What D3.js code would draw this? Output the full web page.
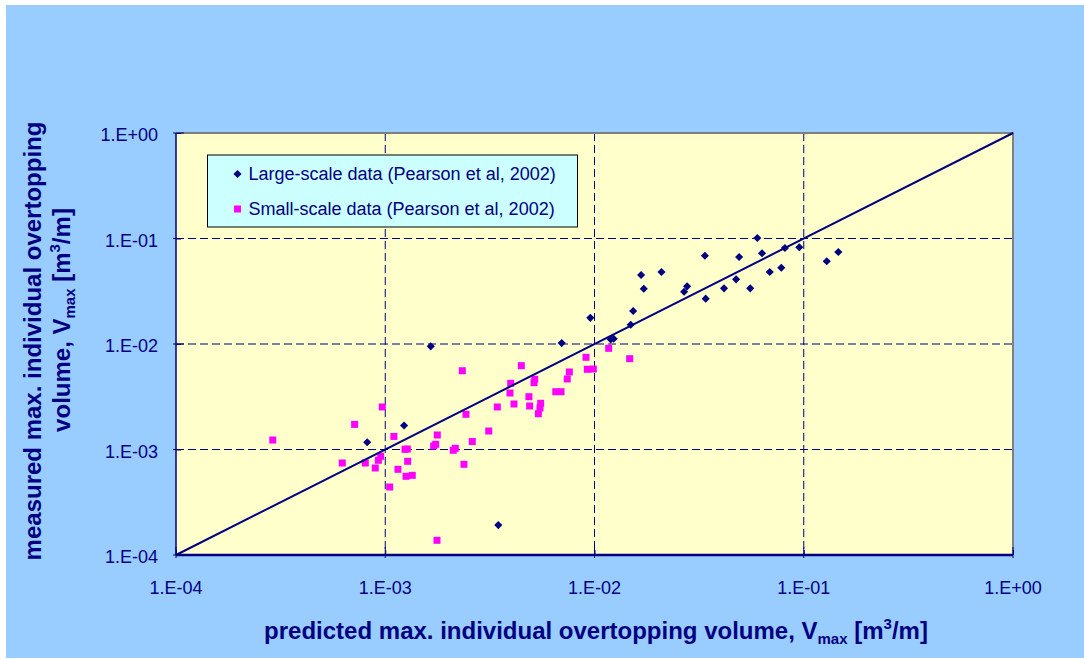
<!DOCTYPE html>
<html lang="en">
<head>
<meta charset="utf-8">
<title>Overtopping volume</title>
<script src="https://d3js.org/d3.v7.min.js"></script>
<style>
  body { margin: 0; background: #fff; }
  text { font-family: Arial, "Liberation Sans", sans-serif; fill: #000080; }
</style>
</head>
<body>
<script>
// large-scale data (Pearson et al, 2002)
var largeX = [8.2e-4, 1.23e-3, 1.65e-3, 3.47e-3, 6.97e-3, 9.55e-3, 1.195e-2, 1.235e-2, 1.49e-2, 1.53e-2,
              1.67e-2, 1.72e-2, 2.09e-2, 2.68e-2, 2.77e-2, 3.37e-2, 3.40e-2, 4.16e-2, 4.75e-2, 4.91e-2,
              5.55e-2, 6.0e-2, 6.32e-2, 6.88e-2, 7.81e-2, 8.13e-2, 9.52e-2, 0.1288, 0.1463];
var largeY = [1.17e-3, 1.69e-3, 9.5e-3, 1.92e-4, 1.02e-2, 1.77e-2, 1.107e-2, 1.122e-2, 1.524e-2, 2.056e-2,
              4.51e-2, 3.34e-2, 4.81e-2, 3.13e-2, 3.52e-2, 6.87e-2, 2.69e-2, 3.37e-2, 4.10e-2, 6.68e-2,
              3.37e-2, 0.101, 7.24e-2, 4.81e-2, 5.28e-2, 8.13e-2, 8.26e-2, 6.08e-2, 7.45e-2];

// small-scale data (Pearson et al, 2002)
var smallX = [2.90e-4, 6.23e-4, 7.14e-4, 8.03e-4, 8.96e-4, 9.27e-4, 9.51e-4, 9.68e-4, 1.05e-3, 1.10e-3,
              1.15e-3, 1.243e-3, 1.275e-3, 1.28e-3, 1.257e-3, 1.346e-3, 1.704e-3, 1.742e-3, 1.773e-3, 1.767e-3,
              2.114e-3, 2.162e-3, 2.335e-3, 2.378e-3, 2.431e-3, 2.606e-3, 3.123e-3, 3.432e-3, 3.946e-3, 3.976e-3,
              4.124e-3, 4.47e-3, 4.86e-3, 4.90e-3, 5.14e-3, 5.18e-3, 5.39e-3, 5.49e-3, 5.53e-3, 6.53e-3,
              6.92e-3, 7.41e-3, 7.58e-3, 9.11e-3, 9.24e-3, 9.87e-3, 1.169e-2, 1.473e-2];
var smallY = [1.23e-3, 7.45e-4, 1.73e-3, 7.45e-4, 6.68e-4, 7.90e-4, 8.62e-4, 2.53e-3, 4.41e-4, 1.33e-3,
              6.49e-4, 1.004e-3, 1.011e-3, 7.73e-4, 5.57e-4, 5.69e-4, 1.08e-3, 1.12e-3, 1.372e-3, 1.378e-4,
              9.83e-4, 1.027e-3, 5.58e-3, 7.24e-4, 2.156e-3, 1.19e-3, 1.497e-3, 2.53e-3, 3.43e-3, 4.24e-3,
              2.70e-3, 6.23e-3, 3.166e-3, 2.584e-3, 4.30e-3, 4.63e-3, 2.184e-3, 2.474e-3, 2.74e-3, 3.53e-3,
              3.53e-3, 4.66e-3, 5.43e-3, 7.48e-3, 5.76e-3, 5.79e-3, 9.10e-3, 7.26e-3];

// 1:1 line and axis ticks
var lineVals = [1e-4, 1];
var majorTicks = [1e-4, 1e-3, 1e-2, 1e-1, 1];
var tickLabels = ["1.E-04", "1.E-03", "1.E-02", "1.E-01", "1.E+00"];
var legendLabels = ["Large-scale data (Pearson et al, 2002)", "Small-scale data (Pearson et al, 2002)"];

var W = 1084, H = 659,
    margin = {top: 133, right: 71, bottom: 104, left: 176},
    width = W - margin.left - margin.right,
    height = H - margin.top - margin.bottom;

var navy = "#000080", pink = "#ff00ff";

var svg = d3.select("body").append("svg")
    .attr("width", W)
    .attr("height", H);

// outer blue area
svg.append("rect").attr("x", 6).attr("y", 5).attr("width", W - 6).attr("height", H - 6)
    .attr("fill", "#99ccff");

var g = svg.append("g").attr("transform", "translate(" + margin.left + "," + margin.top + ")");

var x = d3.scaleLog().domain([1e-4, 1]).range([0, width]);
var y = d3.scaleLog().domain([1e-4, 1]).range([height, 0]);

// plot area
g.append("rect").attr("width", width).attr("height", height).attr("fill", "#ffffcc");

// grid
g.append("g").selectAll("line")
    .data(majorTicks.slice(1, 4))
    .enter().append("line")
    .attr("x1", function(d) { return x(d); })
    .attr("x2", function(d) { return x(d); })
    .attr("y1", 0).attr("y2", height)
    .attr("stroke", navy).attr("stroke-dasharray", "8,4");

g.append("g").selectAll("line")
    .data(majorTicks.slice(1, 4))
    .enter().append("line")
    .attr("y1", function(d) { return y(d); })
    .attr("y2", function(d) { return y(d); })
    .attr("x1", 0).attr("x2", width)
    .attr("stroke", navy).attr("stroke-dasharray", "8,4");

// frame: grey top and right
g.append("path")
    .attr("d", "M0,0H" + width + "V" + height)
    .attr("fill", "none").attr("stroke", "#808080").attr("stroke-width", 2);

// axes with inward ticks
var xAxis = g.append("g")
    .attr("transform", "translate(0," + height + ")")
    .call(d3.axisTop(x).ticks(4).tickSize(5).tickFormat(""));
var yAxis = g.append("g")
    .call(d3.axisRight(y).ticks(4).tickSize(5).tickFormat(""));

xAxis.selectAll("line").attr("stroke", navy);
yAxis.selectAll("line").attr("stroke", navy);
xAxis.select(".domain").attr("stroke", navy).attr("stroke-width", 2.5).attr("d", "M0,0H" + width);
yAxis.select(".domain").attr("stroke", navy).attr("stroke-width", 1.5).attr("d", "M0,0V" + height);

// major ticks slightly crossing the axis
g.append("g").selectAll("line").data(majorTicks).enter().append("line")
    .attr("x1", function(d) { return x(d); }).attr("x2", function(d) { return x(d); })
    .attr("y1", height - 8).attr("y2", height + 3)
    .attr("stroke", navy);
g.append("g").selectAll("line").data(majorTicks).enter().append("line")
    .attr("y1", function(d) { return y(d); }).attr("y2", function(d) { return y(d); })
    .attr("x1", -3).attr("x2", 8)
    .attr("stroke", navy);

// tick labels
g.append("g").selectAll("text").data(majorTicks).enter().append("text")
    .attr("x", function(d) { return x(d); })
    .attr("y", height + 39)
    .attr("text-anchor", "middle")
    .attr("font-size", 18)
    .text(function(d, i) { return tickLabels[i]; });

g.append("g").selectAll("text").data(majorTicks).enter().append("text")
    .attr("x", -18)
    .attr("y", function(d) { return y(d) + 8; })
    .attr("text-anchor", "end")
    .attr("font-size", 18)
    .text(function(d, i) { return tickLabels[i]; });

// legend
var legend = g.append("g").attr("transform", "translate(31.5,22)");
legend.append("rect")
    .attr("width", 370).attr("height", 72)
    .attr("fill", "#ccffff").attr("stroke", "#000").attr("stroke-width", 1);

var diamond = d3.symbol().type(d3.symbolDiamond2).size(42);

legend.append("path")
    .attr("d", diamond())
    .attr("transform", "translate(30,19)")
    .attr("fill", navy);
legend.append("rect")
    .attr("x", 26.5).attr("y", 50.5).attr("width", 7).attr("height", 7)
    .attr("fill", pink);

legend.selectAll(".lt").data(legendLabels).enter().append("text")
    .attr("class", "lt")
    .attr("x", 41)
    .attr("y", function(d, i) { return 25 + i * 35; })
    .attr("font-size", 18)
    .text(function(d) { return d; });

// data points
g.append("g").selectAll("rect")
    .data(smallX)
    .enter().append("rect")
    .attr("x", function(d) { return x(d) - 3.5; })
    .attr("y", function(d, i) { return y(smallY[i]) - 3.5; })
    .attr("width", 7).attr("height", 7)
    .attr("fill", pink);

g.append("g").selectAll("path")
    .data(largeX)
    .enter().append("path")
    .attr("d", diamond())
    .attr("transform", function(d, i) { return "translate(" + x(d) + "," + y(largeY[i]) + ")"; })
    .attr("fill", navy);

// 1:1 line
g.append("line")
    .attr("x1", x(lineVals[0])).attr("y1", y(lineVals[0]))
    .attr("x2", x(lineVals[1])).attr("y2", y(lineVals[1]))
    .attr("stroke", navy).attr("stroke-width", 2);

// axis titles
var xt = svg.append("text")
    .attr("x", 596).attr("y", 639)
    .attr("text-anchor", "middle")
    .attr("font-size", 24).attr("font-weight", "bold");
xt.append("tspan").text("predicted max. individual overtopping volume, V");
xt.append("tspan").attr("font-size", 15).attr("dy", 5).text("max");
xt.append("tspan").attr("dy", -5).text(" [m");
xt.append("tspan").attr("font-size", 15).attr("dy", -10).text("3");
xt.append("tspan").attr("dy", 10).text("/m]");

svg.append("text")
    .attr("transform", "translate(41,341) rotate(-90)")
    .attr("text-anchor", "middle")
    .attr("font-size", 24).attr("font-weight", "bold")
    .text("measured max. individual overtopping");

var yt = svg.append("text")
    .attr("transform", "translate(70,320) rotate(-90)")
    .attr("text-anchor", "middle")
    .attr("font-size", 24).attr("font-weight", "bold");
yt.append("tspan").text("volume, V");
yt.append("tspan").attr("font-size", 15).attr("dy", 5).text("max");
yt.append("tspan").attr("dy", -5).text(" [m");
yt.append("tspan").attr("font-size", 15).attr("dy", -10).text("3");
yt.append("tspan").attr("dy", 10).text("/m]");
</script>
</body>
</html>
